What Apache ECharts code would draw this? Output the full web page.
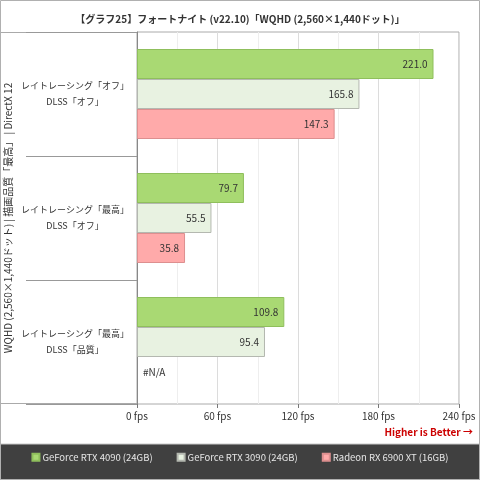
<!DOCTYPE html>
<html><head><meta charset="utf-8">
<script src="https://cdn.jsdelivr.net/npm/echarts@6/dist/echarts.min.js"></script>
<style>html,body{margin:0;padding:0;background:#fff}#c{width:480px;height:480px}</style>
</head><body><div id="c"></div>
<script>
const titleText = '【グラフ25】フォートナイト (v22.10)「WQHD (2,560×1,440ドット)」';
const yName = 'WQHD (2,560×1,440ドット) | 描画品質「最高」 | DirectX 12';
const categories = ['レイトレーシング「オフ」\nDLSS「オフ」', 'レイトレーシング「最高」\nDLSS「オフ」', 'レイトレーシング「最高」\nDLSS「品質」'];
const seriesNames = ['GeForce RTX 4090 (24GB)', 'GeForce RTX 3090 (24GB)', 'Radeon RX 6900 XT (16GB)'];
const rtx4090 = [221.0, 79.7, 109.8];
const rtx3090 = [165.8, 55.5, 95.4];
const rx6900 = [147.3, 35.8, null];
const xTicks = [0, 60, 120, 180, 240];

const FONT = '"Noto Sans CJK JP", sans-serif';
const fills = ['#a9d973', '#e8f2e1', '#ffaaaa'];
const borders = ['#8fbf5c', '#b4b8b0', '#dd8f8f'];
const allData = [rtx4090, rtx3090, rx6900];

const series = allData.map((arr, i) => ({
  name: seriesNames[i],
  type: 'bar',
  barWidth: 30,
  barGap: '0%',
  itemStyle: { color: fills[i], borderColor: borders[i], borderWidth: 1 },
  label: { show: true, position: 'insideRight', distance: 6, color: '#333', fontSize: 10, fontFamily: FONT,
    formatter: p => p.value.toFixed(1) },
  data: arr.map(v => v === null
    ? { value: 0, itemStyle: { borderWidth: 0, color: 'transparent' },
        label: { show: true, position: 'right', distance: 6, formatter: '#N/A' } }
    : v)
}));

const chart = echarts.init(document.getElementById('c'));
chart.setOption({
  animation: false,
  textStyle: { fontFamily: FONT },
  title: { text: titleText, left: 'center', top: 9,
    textStyle: { fontSize: 10, fontWeight: 'bold', color: '#333', fontFamily: FONT } },
  legend: { bottom: 13, left: 'center', itemGap: 24, itemWidth: 7, itemHeight: 7, icon: 'rect',
    textStyle: { color: '#e6e6e6', fontSize: 9.5, fontFamily: FONT, padding: [0, 0, 0, -2] },
    data: seriesNames },
  grid: { left: 137, right: 21, top: 32, bottom: 76, show: true, borderColor: '#aaa', borderWidth: 1,
    containLabel: false, outerBoundsMode: 'none' },
  xAxis: {
    type: 'value', min: 0, max: 240, interval: 60,
    axisLine: { show: false },
    axisTick: { show: true, length: 4, lineStyle: { color: '#777' } },
    axisLabel: { color: '#333', fontSize: 10, margin: 7, formatter: v => xTicks.includes(v) ? v + ' fps' : '' },
    splitLine: { show: true, lineStyle: { color: '#dcdcdc' } },
    minorTick: { show: false, splitNumber: 2 },
    minorSplitLine: { show: true, lineStyle: { color: '#eeeeee' } }
  },
  yAxis: {
    type: 'category', inverse: true, data: categories,
    name: yName, nameLocation: 'middle', nameRotate: 90, nameGap: 124, nameMoveOverlap: false,
    nameTextStyle: { fontSize: 10, color: '#333', fontFamily: FONT },
    axisLine: { show: true, lineStyle: { color: '#888' } },
    axisTick: { show: true, length: 111, inside: false, lineStyle: { color: '#999' } },
    axisLabel: { color: '#333', fontSize: 9, lineHeight: 16, align: 'center', margin: 62, fontFamily: FONT },
    splitLine: { show: false }
  },
  graphic: [
    { type: 'rect', z: -10, shape: { x: 0, y: 444, width: 480, height: 36 },
      style: { fill: '#404040', stroke: '#c8c8c8', lineWidth: 1 } },
    { type: 'line', shape: { x1: 0, y1: 32.5, x2: 137, y2: 32.5 }, style: { stroke: '#aaa', lineWidth: 1 } },
    { type: 'line', shape: { x1: 0, y1: 403.5, x2: 137, y2: 403.5 }, style: { stroke: '#aaa', lineWidth: 1 } },
    { type: 'rect', z: 100, shape: { x: 0.5, y: 0.5, width: 479, height: 479 },
      style: { fill: 'none', stroke: '#b0b0b0', lineWidth: 1 } },
    { type: 'text', right: 7, top: 427,
      style: { text: 'Higher is Better →', fill: '#cc0000', font: 'bold 10px ' + FONT } }
  ],
  series: series
});
</script></body></html>
